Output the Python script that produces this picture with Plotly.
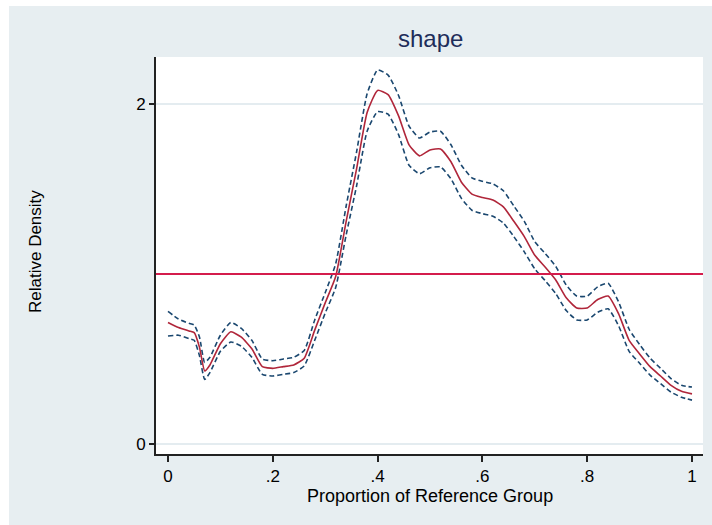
import plotly.graph_objects as go

# ---- data ----
prop = [0.00, 0.02, 0.04, 0.05, 0.06, 0.07, 0.08, 0.10, 0.12, 0.14, 0.16, 0.18,
        0.20, 0.22, 0.24, 0.26, 0.28, 0.30, 0.32, 0.34, 0.36, 0.38, 0.40, 0.42,
        0.44, 0.46, 0.48, 0.50, 0.52, 0.54, 0.56, 0.58, 0.60, 0.62, 0.64, 0.66,
        0.68, 0.70, 0.72, 0.74, 0.76, 0.78, 0.80, 0.82, 0.84, 0.86, 0.88, 0.90,
        0.92, 0.94, 0.96, 0.98, 1.00]
density = [0.715, 0.685, 0.665, 0.655, 0.57, 0.43, 0.465, 0.59, 0.66, 0.628, 0.56, 0.455,
           0.445, 0.455, 0.465, 0.505, 0.67, 0.83, 0.985, 1.31, 1.62, 1.95, 2.08, 2.055,
           1.93, 1.76, 1.695, 1.73, 1.735, 1.66, 1.54, 1.47, 1.45, 1.435, 1.395, 1.31,
           1.22, 1.11, 1.04, 0.965, 0.86, 0.80, 0.80, 0.85, 0.87, 0.765, 0.61, 0.53,
           0.455, 0.40, 0.345, 0.31, 0.295]
upper = [0.78, 0.735, 0.71, 0.70, 0.63, 0.48, 0.51, 0.64, 0.715, 0.68, 0.61, 0.50,
         0.49, 0.50, 0.51, 0.55, 0.73, 0.89, 1.06, 1.40, 1.72, 2.06, 2.20, 2.17,
         2.05, 1.87, 1.80, 1.835, 1.84, 1.76, 1.64, 1.565, 1.545, 1.53, 1.49, 1.40,
         1.31, 1.19, 1.12, 1.045, 0.935, 0.87, 0.87, 0.925, 0.945, 0.835, 0.675, 0.585,
         0.505, 0.445, 0.385, 0.345, 0.335]
lower = [0.635, 0.64, 0.62, 0.61, 0.52, 0.38, 0.42, 0.545, 0.60, 0.575, 0.51, 0.41,
         0.40, 0.41, 0.42, 0.46, 0.61, 0.77, 0.92, 1.23, 1.52, 1.84, 1.955, 1.94,
         1.82, 1.64, 1.59, 1.625, 1.63, 1.56, 1.445, 1.375, 1.355, 1.34, 1.30, 1.22,
         1.13, 1.03, 0.96, 0.885, 0.785, 0.73, 0.73, 0.775, 0.795, 0.695, 0.545, 0.475,
         0.405, 0.355, 0.305, 0.275, 0.258]
ref_level = 1
x_ticks = [0, 0.2, 0.4, 0.6, 0.8, 1]
x_tick_text = ["0", ".2", ".4", ".6", ".8", "1"]
y_ticks = [0, 2]
y_tick_text = ["0", "2"]
title_text = "shape"
x_title = "Proportion of Reference Group"
y_title = "Relative Density"

# ---- layout geometry (pixels) ----
W, H = 712, 525
ML, MR, MT, MB = 156, 9, 57, 71
PW, PH = W - ML - MR, H - MT - MB


def px_x(p):
    return (p - ML) / PW


def px_y(p):
    return (H - MB - p) / PH


FONT = "Liberation Sans, Arial, sans-serif"
BG = "#E7EEF1"
NAVY = "#1A476F"
RED = "#B0263A"

fig = go.Figure()
fig.add_trace(go.Scatter(x=prop, y=upper, mode="lines",
                         line=dict(color=NAVY, width=1.6, dash="5px,3px",
                                   shape="spline", smoothing=0.5),
                         showlegend=False, hoverinfo="skip"))
fig.add_trace(go.Scatter(x=prop, y=lower, mode="lines",
                         line=dict(color=NAVY, width=1.6, dash="5px,3px",
                                   shape="spline", smoothing=0.5),
                         showlegend=False, hoverinfo="skip"))
fig.add_trace(go.Scatter(x=prop, y=density, mode="lines",
                         line=dict(color=RED, width=1.6, shape="spline", smoothing=0.5),
                         showlegend=False))

fig.add_hline(y=ref_level, line=dict(color="#D41C4C", width=2))

shapes = [
    dict(type="rect", xref="paper", yref="paper", x0=px_x(0), x1=px_x(9),
         y0=px_y(H), y1=px_y(0), fillcolor="white", line=dict(width=0), layer="below"),
    dict(type="rect", xref="paper", yref="paper", x0=px_x(0), x1=px_x(W),
         y0=px_y(6), y1=px_y(0), fillcolor="white", line=dict(width=0), layer="below"),
]
for s in shapes:
    fig.add_shape(**s)

fig.add_annotation(text=title_text, xref="paper", yref="paper",
                   x=px_x(430), y=px_y(38), xanchor="center", yanchor="middle",
                   showarrow=False, font=dict(family=FONT, size=24, color="#1F2D5A"))
fig.add_annotation(text=x_title, xref="paper", yref="paper",
                   x=px_x(430), y=px_y(496), xanchor="center", yanchor="middle",
                   showarrow=False, font=dict(family=FONT, size=18, color="black"))
fig.add_annotation(text=y_title, xref="paper", yref="paper",
                   x=px_x(36), y=px_y(252), xanchor="center", yanchor="middle",
                   textangle=-90, showarrow=False,
                   font=dict(family=FONT, size=17, color="black"))

x_lo = (ML - 168) / 524
x_hi = x_lo + PW / 524
y_lo = -(H - MB - 444) / 170
y_hi = y_lo + PH / 170

fig.update_layout(
    width=W, height=H,
    margin=dict(l=ML, r=MR, t=MT, b=MB, pad=0),
    paper_bgcolor=BG, plot_bgcolor="white",
    font=dict(family=FONT, size=18, color="black"),
    xaxis=dict(range=[x_lo, x_hi], tickvals=x_ticks, ticktext=x_tick_text,
               showgrid=False, zeroline=False, showline=True, linecolor="#222222",
               linewidth=2, ticks="outside", ticklen=6, tickwidth=1.5,
               tickcolor="#222222", tickfont=dict(size=17, family=FONT)),
    yaxis=dict(range=[y_lo, y_hi], tickvals=y_ticks, ticktext=y_tick_text,
               showgrid=True, gridcolor="#E4ECF0", gridwidth=2, zeroline=False,
               showline=True, linecolor="#222222", linewidth=2, ticks="outside",
               ticklen=5, tickwidth=1.5, tickcolor="#222222",
               tickfont=dict(size=17, family=FONT)),
)

fig.write_html("out.html",
               config={"displayModeBar": False},
               post_script="document.body.style.margin='0';"
                           "document.body.style.overflow='hidden';")
